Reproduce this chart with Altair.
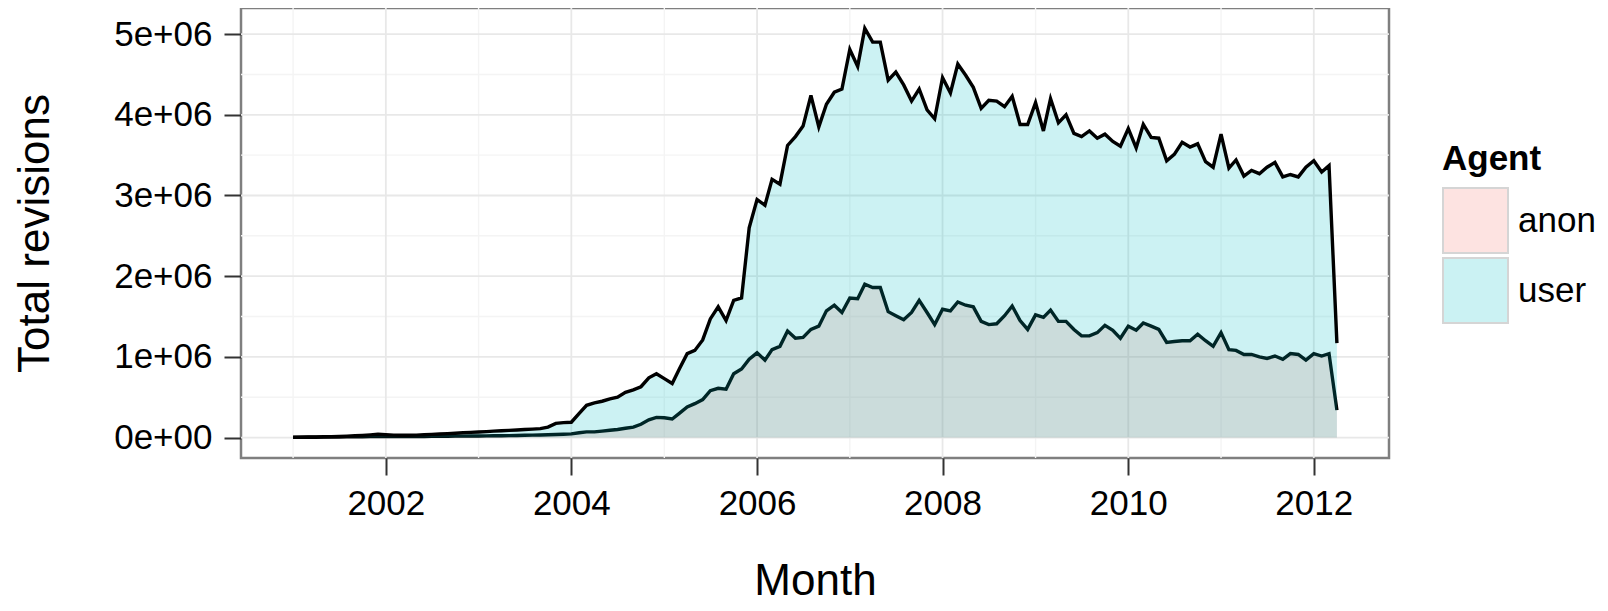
import altair as alt
import pandas as pd

# ---- data (values in millions of revisions), monthly 2001-01 .. 2012-04 ----
months = pd.date_range("2001-01-01", periods=136, freq="MS").strftime("%Y-%m-%d").tolist()

user_m = [
    0.004, 0.005, 0.006, 0.008, 0.010, 0.012, 0.015, 0.018, 0.022, 0.027, 0.033, 0.040,   # 2001
    0.034, 0.030, 0.028, 0.028, 0.030, 0.034, 0.039, 0.044, 0.049, 0.054, 0.059, 0.064,   # 2002
    0.069, 0.074, 0.079, 0.084, 0.089, 0.094, 0.099, 0.104, 0.110, 0.130, 0.175, 0.185,   # 2003
    0.19, 0.30, 0.40, 0.43, 0.45, 0.48, 0.50, 0.56, 0.59, 0.63, 0.74, 0.79,               # 2004
    0.73, 0.67, 0.85, 1.04, 1.08, 1.21, 1.47, 1.62, 1.45, 1.70, 1.73, 2.60,               # 2005
    2.95, 2.88, 3.20, 3.14, 3.62, 3.73, 3.86, 4.24, 3.85, 4.13, 4.28, 4.32,               # 2006
    4.81, 4.60, 5.07, 4.90, 4.90, 4.43, 4.53, 4.37, 4.17, 4.32, 4.06, 3.95,               # 2007
    4.46, 4.27, 4.63, 4.49, 4.34, 4.08, 4.18, 4.17, 4.10, 4.23, 3.88, 3.88,               # 2008
    4.15, 3.80, 4.20, 3.90, 4.00, 3.77, 3.73, 3.80, 3.71, 3.76, 3.67, 3.61,               # 2009
    3.83, 3.59, 3.88, 3.72, 3.71, 3.43, 3.51, 3.66, 3.60, 3.64, 3.42, 3.35,               # 2010
    3.76, 3.34, 3.44, 3.24, 3.31, 3.27, 3.35, 3.41, 3.23, 3.26, 3.23, 3.35,               # 2011
    3.43, 3.29, 3.37, 1.17,                                                               # 2012
]

anon_m = [
    0.002, 0.003, 0.003, 0.004, 0.005, 0.006, 0.007, 0.008, 0.009, 0.010, 0.011, 0.013,   # 2001
    0.012, 0.011, 0.011, 0.012, 0.012, 0.013, 0.014, 0.015, 0.016, 0.017, 0.018, 0.019,   # 2002
    0.020, 0.021, 0.022, 0.023, 0.024, 0.026, 0.028, 0.030, 0.032, 0.034, 0.037, 0.040,   # 2003
    0.045, 0.060, 0.070, 0.070, 0.080, 0.090, 0.100, 0.115, 0.130, 0.165, 0.22, 0.25,     # 2004
    0.245, 0.23, 0.30, 0.38, 0.42, 0.47, 0.58, 0.61, 0.60, 0.79, 0.85, 0.97,              # 2005
    1.05, 0.96, 1.09, 1.13, 1.32, 1.23, 1.24, 1.34, 1.38, 1.57, 1.64, 1.55,               # 2006
    1.73, 1.72, 1.90, 1.86, 1.86, 1.56, 1.51, 1.46, 1.55, 1.70, 1.55, 1.40,               # 2007
    1.59, 1.57, 1.68, 1.64, 1.62, 1.44, 1.40, 1.41, 1.51, 1.63, 1.45, 1.34,               # 2008
    1.52, 1.49, 1.58, 1.44, 1.44, 1.34, 1.26, 1.26, 1.30, 1.39, 1.33, 1.23,               # 2009
    1.38, 1.33, 1.42, 1.38, 1.34, 1.18, 1.19, 1.20, 1.20, 1.28, 1.20, 1.13,               # 2010
    1.30, 1.09, 1.08, 1.03, 1.03, 1.00, 0.98, 1.01, 0.97, 1.04, 1.03, 0.96,               # 2011
    1.04, 1.01, 1.04, 0.34,                                                               # 2012
]

agents = ["anon", "user"]
fill_colors = ["#F8766D", "#00BFC4"]

x_major = ["2002-01-01", "2004-01-01", "2006-01-01", "2008-01-01", "2010-01-01", "2012-01-01"]
x_minor = ["2001-01-01", "2003-01-01", "2005-01-01", "2007-01-01", "2009-01-01", "2011-01-01"]
y_major = [0, 1000000, 2000000, 3000000, 4000000, 5000000]
y_minor = [500000, 1500000, 2500000, 3500000, 4500000]

df = pd.DataFrame({
    "Month": months * 2,
    "Agent": ["anon"] * len(anon_m) + ["user"] * len(user_m),
    "revisions": [v * 1e6 for v in anon_m + user_m],
})

FONT = "Liberation Sans"
W, H = 1148, 450

x_scale = alt.Scale(
    type="utc",
    domain=[alt.DateTime(year=2000, month=6, date=10, utc=True),
            alt.DateTime(year=2012, month=10, date=23, utc=True)],
)
y_scale = alt.Scale(domain=[-253500, 5323500], nice=False, zero=False)

x_axis = alt.Axis(
    values=[alt.DateTime(year=int(d[:4]), month=1, date=1, utc=True) for d in x_major],
    labelExpr="utcFormat(datum.value, '%Y')",
    title="Month",
    titleX=W / 2, titleY=136, titleBaseline="alphabetic", titleAnchor="middle",
    labelPadding=11,
)
y_axis = alt.Axis(
    values=y_major,
    labelExpr="datum.value == 0 ? '0e+00' : format(datum.value / 1000000, 'd') + 'e+06'",
    title="Total revisions",
    titleX=-192.5, titleY=H / 2, titleBaseline="alphabetic", titleAlign="center", titleAngle=270,
    labelPadding=12,
)

X = alt.X("Month:T", scale=x_scale, axis=x_axis)
Y = alt.Y("revisions:Q", scale=y_scale, axis=y_axis)

color = alt.Color(
    "Agent:N",
    scale=alt.Scale(domain=agents, range=fill_colors),
    legend=alt.Legend(
        title="Agent", orient="none", legendX=1201, legendY=134, padding=0,
        titleFont=FONT, titleFontSize=35, titleFontWeight="bold", titleColor="black",
        titlePadding=10,
        labelFont=FONT, labelFontSize=35, labelColor="black", labelOffset=9,
        symbolType="square", symbolSize=4225, symbolStrokeColor="#333333",
        symbolStrokeWidth=2, symbolOpacity=0.2, rowPadding=-9,
    ),
)

grid_x_minor = alt.Chart(pd.DataFrame({"Month": x_minor})).mark_rule(
    color="#F4F4F4", strokeWidth=1.4).encode(x=X)
grid_x_major = alt.Chart(pd.DataFrame({"Month": x_major})).mark_rule(
    color="#E8E8E8", strokeWidth=1.8).encode(x=X)
grid_y_minor = alt.Chart(pd.DataFrame({"revisions": y_minor})).mark_rule(
    color="#F4F4F4", strokeWidth=1.4).encode(y=Y)
grid_y_major = alt.Chart(pd.DataFrame({"revisions": y_major})).mark_rule(
    color="#E8E8E8", strokeWidth=1.8).encode(y=Y)

base = alt.Chart(df)

def series(agent):
    b = base.transform_filter(alt.datum.Agent == agent)
    area = b.mark_area(opacity=0.2).encode(x=X, y=Y, color=color)
    line = b.mark_line(color="black", strokeWidth=3.4).encode(x=X, y=Y)
    return area, line

a_area, a_line = series("anon")
u_area, u_line = series("user")

chart = alt.layer(
    grid_x_minor, grid_y_minor, grid_x_major, grid_y_major,
    a_area, a_line, u_area, u_line,
).properties(
    width=W, height=H,
    autosize=alt.AutoSizeParams(type="none"),
    padding={"left": 233, "top": 0, "right": 1592 - 233 - W, "bottom": 595 - H},
    background="white",
).configure_view(
    stroke="#7F7F7F", strokeWidth=2.5,
).configure_axis(
    grid=False, domain=False,
    labelFont=FONT, labelFontSize=35, labelColor="black",
    titleFont=FONT, titleFontSize=44, titleFontWeight="normal", titleColor="black",
    tickColor="#333333", tickSize=17, tickWidth=2,
)

chart.save("out.html", embed_options={"renderer": "svg", "actions": False})
